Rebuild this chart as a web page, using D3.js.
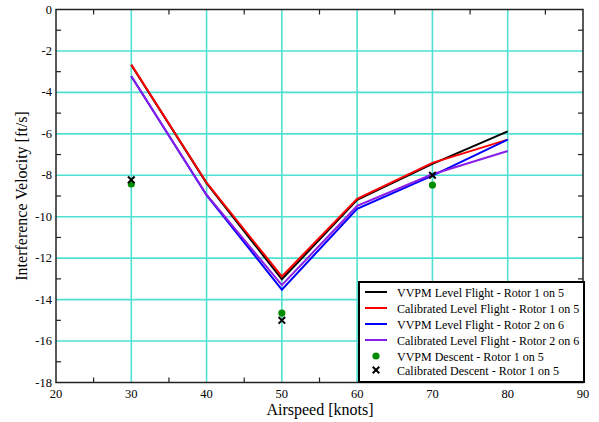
<!DOCTYPE html>
<html>
<head>
<meta charset="utf-8">
<script src="https://cdn.jsdelivr.net/npm/d3@7"></script>
<style>
  body { margin:0; background:#fff; }
</style>
</head>
<body>
<div class="canvas"></div>
<script>
// airspeeds for the level flight curves
const speeds = [30, 40, 50, 60, 70, 80];
const vvpm15 = [-2.68, -8.38, -13.02, -9.18, -7.45, -5.88];
const cal15 = [-2.66, -8.36, -12.88, -9.14, -7.40, -6.28];
const vvpm26 = [-3.22, -8.96, -13.52, -9.62, -8.02, -6.28];
const cal26 = [-3.22, -8.94, -13.30, -9.48, -7.95, -6.83];
// descent points
const descentSpeeds = [30, 50, 70];
const vvpmDescent = [-8.42, -14.65, -8.47];
const calDescent = [-8.22, -15.0, -8.0];

const xTicks = [20, 30, 40, 50, 60, 70, 80, 90];
const yTicks = [0, -2, -4, -6, -8, -10, -12, -14, -16, -18];

const lineSeries = [
  { name: "VVPM Level Flight - Rotor 1 on 5", vals: vvpm15, color: "#000000" },
  { name: "Calibrated Level Flight - Rotor 1 on 5", vals: cal15, color: "#ff0000" },
  { name: "VVPM Level Flight - Rotor 2 on 6", vals: vvpm26, color: "#0000ff" },
  { name: "Calibrated Level Flight - Rotor 2 on 6", vals: cal26, color: "#8a1de6" }
];

const FONT = "'Liberation Serif', 'Times New Roman', serif";

let dim = { width: 599, height: 422 };
let m = { left: 56, right: 583, top: 9.5, bottom: 382.5 };

let svg = d3.select(".canvas").append("svg").attr("width", dim.width).attr("height", dim.height)
  .attr("font-family", FONT);

const x = d3.scaleLinear().domain([20, 90]).range([m.left, m.right]);
const y = d3.scaleLinear().domain([-18, 0]).range([m.bottom, m.top]);

// grid
const grid = svg.append("g").attr("stroke", "#4fe0d2").attr("stroke-width", 1.6);
grid.selectAll(".gx").data(xTicks.slice(1, -1)).enter().append("line")
  .attr("x1", d => x(d)).attr("x2", d => x(d)).attr("y1", m.top).attr("y2", m.bottom);
grid.selectAll(".gy").data(yTicks.slice(1, -1)).enter().append("line")
  .attr("y1", d => y(d)).attr("y2", d => y(d)).attr("x1", m.left).attr("x2", m.right);

// minor ticks
const minorX = [25, 35, 45, 55, 65, 75, 85];
const minorY = [-1, -3, -5, -7, -9, -11, -13, -15, -17];
const ticks = svg.append("g").attr("stroke", "#222").attr("stroke-width", 1.2);
minorX.forEach(v => {
  ticks.append("line").attr("x1", x(v)).attr("x2", x(v)).attr("y1", m.bottom).attr("y2", m.bottom - 5);
  ticks.append("line").attr("x1", x(v)).attr("x2", x(v)).attr("y1", m.top).attr("y2", m.top + 5);
});
minorY.forEach(v => {
  ticks.append("line").attr("y1", y(v)).attr("y2", y(v)).attr("x1", m.left).attr("x2", m.left + 5);
  ticks.append("line").attr("y1", y(v)).attr("y2", y(v)).attr("x1", m.right).attr("x2", m.right - 5);
});

// frame
svg.append("rect").attr("x", m.left).attr("y", m.top)
  .attr("width", m.right - m.left).attr("height", m.bottom - m.top)
  .attr("fill", "none").attr("stroke", "#222").attr("stroke-width", 1.5);

// tick labels
svg.selectAll(".xl").data(xTicks).enter().append("text")
  .attr("x", d => x(d)).attr("y", m.bottom + 15)
  .attr("text-anchor", "middle").attr("font-size", 12.5).text(d => d);
svg.selectAll(".yl").data(yTicks).enter().append("text")
  .attr("x", m.left - 4).attr("y", d => y(d) + 4)
  .attr("text-anchor", "end").attr("font-size", 12.5).text(d => d);

// axis titles
svg.append("text").attr("x", 320).attr("y", 415)
  .attr("text-anchor", "middle").attr("font-size", 16).text("Airspeed [knots]");
svg.append("text").attr("transform", `translate(27,${(m.top + m.bottom) / 2}) rotate(-90)`)
  .attr("text-anchor", "middle").attr("font-size", 16).text("Interference Velocity [ft/s]");

// lines
const line = d3.line().x((d, i) => x(speeds[i])).y(d => y(d));
lineSeries.forEach(s => {
  svg.append("path").datum(s.vals).attr("d", line)
    .attr("fill", "none").attr("stroke", s.color).attr("stroke-width", 2);
});

// descent points
svg.selectAll(".dot").data(vvpmDescent).enter().append("circle")
  .attr("cx", (d, i) => x(descentSpeeds[i])).attr("cy", d => y(d))
  .attr("r", 3.6).attr("fill", "#008c00");
const cross = d3.symbol().type(d3.symbolTimes).size(30);
svg.selectAll(".cross").data(calDescent).enter().append("path")
  .attr("d", cross)
  .attr("transform", (d, i) => `translate(${x(descentSpeeds[i])},${y(d)})`)
  .attr("fill", "none").attr("stroke", "#000").attr("stroke-width", 2);

// legend
const lg = svg.append("g");
lg.append("rect").attr("x", 359).attr("y", 282).attr("width", 225).attr("height", 100)
  .attr("fill", "#fff").attr("stroke", "#000").attr("stroke-width", 2);
const rowY = [292, 308, 324, 340, 356, 370];
lineSeries.forEach((s, i) => {
  lg.append("line").attr("x1", 365).attr("x2", 387).attr("y1", rowY[i]).attr("y2", rowY[i])
    .attr("stroke", s.color).attr("stroke-width", 2);
  lg.append("text").attr("x", 397).attr("y", rowY[i] + 4.5).attr("font-size", 12).text(s.name);
});
lg.append("circle").attr("cx", 376).attr("cy", rowY[4]).attr("r", 3.6).attr("fill", "#008c00");
lg.append("text").attr("x", 397).attr("y", rowY[4] + 4.5).attr("font-size", 12).text("VVPM Descent - Rotor 1 on 5");
lg.append("path").attr("d", cross).attr("transform", `translate(376,${rowY[5]})`)
  .attr("fill", "none").attr("stroke", "#000").attr("stroke-width", 2);
lg.append("text").attr("x", 397).attr("y", rowY[5] + 4.5).attr("font-size", 12).text("Calibrated Descent - Rotor 1 on 5");
</script>
</body>
</html>
